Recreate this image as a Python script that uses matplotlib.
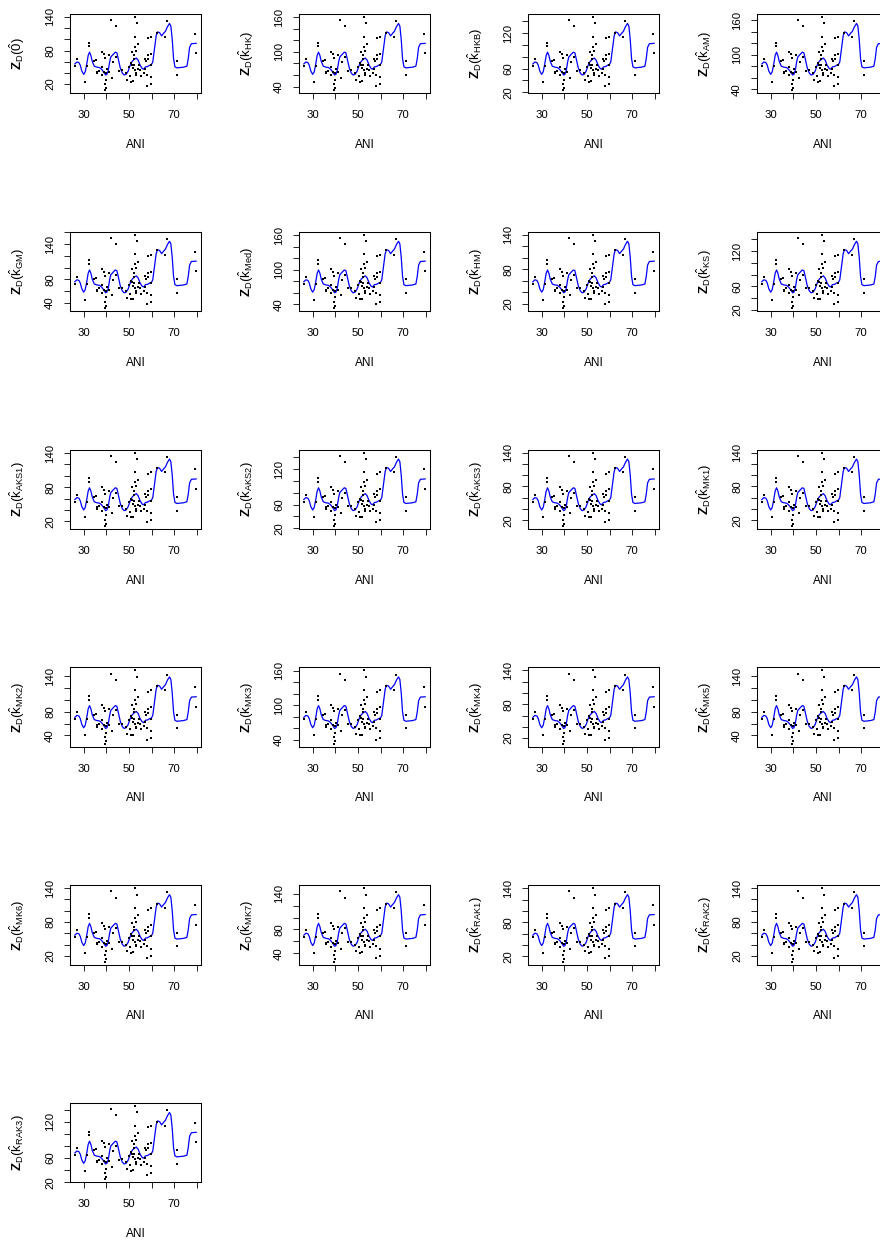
import numpy as np
import matplotlib
matplotlib.use("Agg")
import matplotlib.pyplot as plt

plt.rcParams['font.family'] = ['Liberation Sans', 'DejaVu Sans']
plt.rcParams['mathtext.fontset'] = 'custom'
plt.rcParams['mathtext.rm'] = 'Liberation Sans'
plt.rcParams['mathtext.it'] = 'Liberation Sans:italic'
plt.rcParams['mathtext.bf'] = 'Liberation Sans:bold'

# observed points for the unscaled statistic Z_D(0^)
ani = [26.0, 26.9, 30.4, 31.3, 32.2, 32.2, 34.3, 35.3, 35.8, 36.0,
       38.0, 37.8, 38.1, 38.7, 39.1, 39.3, 39.6, 39.6, 39.3, 40.2,
       39.9, 41.1, 41.2, 41.9, 42.4, 42.7, 44.0, 44.2, 46.8, 48.7,
       49.3, 50.1, 50.2, 50.8, 50.8, 51.1, 51.2, 51.7, 51.8, 52.0,
       52.3, 52.3, 52.6, 52.6, 52.6, 52.9, 52.7, 52.9, 53.2, 53.7,
       53.9, 54.0, 54.5, 54.9, 55.4, 57.1, 57.6, 58.2, 58.2, 57.9,
       57.9, 58.3, 59.5, 59.6, 59.6, 59.6, 59.8, 62.3, 66.1, 67.0,
       71.2, 71.2, 79.4, 79.7, 36.8, 39.4, 56.8, 57.0, 45.5]
zd0 = [52.5, 64.8, 24.0, 52.5, 94.0, 87.5, 60.7, 62.4, 42.0, 39.4,
       78.2, 50.8, 35.6, 42.0, 73.0, 66.5, 28.0, 13.0, 8.8, 46.1,
       40.3, 71.2, 42.0, 134.2, 31.5, 59.5, 123.1, 68.3, 44.4, 39.1,
       27.0, 50.8, 34.5, 57.8, 24.5, 78.2, 54.9, 25.1, 47.9, 53.7,
       64.8, 71.2, 140.0, 105.0, 87.0, 80.0, 44.4, 36.2, 39.1, 128.3,
       46.7, 91.6, 53.7, 45.0, 35.0, 65.4, 60.7, 101.5, 64.2, 36.2,
       15.8, 71.2, 74.1, 19.3, 104.4, 53.7, 32.1, 112.0, 104.4, 132.4,
       60.7, 36.2, 109.7, 74.7, 44.0, 20.0, 40.0, 47.0, 44.0]

# fitted curve for Z_D(0^)
fit_ani = [26.0, 26.9, 27.8, 28.4, 29.1, 29.9, 30.6, 31.3, 31.9, 32.5,
           33.1, 33.7, 34.6, 35.8, 36.9, 37.8, 38.7, 39.6, 40.2, 40.8,
           41.4, 41.9, 42.8, 43.9, 44.6, 45.2, 46.1, 47.0, 47.8, 48.7,
           49.6, 50.5, 51.4, 52.3, 53.2, 54.0, 54.9, 55.8, 56.4, 57.3,
           58.2, 59.1, 59.9, 60.5, 61.4, 62.0, 62.6, 63.5, 64.4, 65.3,
           66.1, 67.0, 67.9, 68.5, 69.1, 69.7, 70.3, 71.2, 72.6, 74.1,
           75.6, 76.2, 76.8, 77.6, 79.7]
fit_zd0 = [56.0, 59.5, 58.4, 53.7, 43.2, 37.4, 42.0, 56.6, 71.2, 77.0,
           71.2, 60.7, 52.0, 50.2, 49.6, 46.7, 42.0, 36.2, 37.4, 44.4,
           59.5, 68.3, 72.4, 77.0, 75.9, 65.4, 49.0, 39.7, 36.2, 37.4,
           43.2, 53.7, 60.7, 64.2, 66.5, 63.0, 53.7, 47.9, 46.7, 50.8,
           51.4, 53.7, 54.9, 59.5, 87.5, 106.2, 113.2, 112.0, 106.2, 110.8,
           114.3, 122.5, 128.3, 123.7, 100.3, 65.4, 50.8, 49.0, 49.6, 50.2,
           52.0, 65.4, 85.8, 92.2, 92.8]

# one panel per estimator: subscript, data range, y tick labels shown
estimators = ['0', 'HK', 'HKB', 'AM', 'GM', 'Med', 'HM', 'KS',
              'AKS1', 'AKS2', 'AKS3', 'MK1', 'MK2', 'MK3', 'MK4', 'MK5',
              'MK6', 'MK7', 'RAK1', 'RAK2', 'RAK3']
zd_low = [8.8, 33.5, 23.0, 38.0, 31.0, 33.5, 12.0, 23.0,
          12.0, 24.0, 10.0, 10.0, 26.0, 33.5, 10.0, 26.0,
          10.0, 26.0, 10.7, 10.0, 24.8]
zd_high = [140.0, 160.5, 147.5, 166.0, 156.0, 160.5, 140.0, 147.5,
           141.0, 148.0, 140.0, 140.0, 149.5, 160.5, 140.0, 149.5,
           140.0, 149.5, 140.6, 140.0, 146.0]
ytick_shown = [(20, 80, 140), (40, 100, 160), (20, 60, 120), (40, 100, 160),
               (40, 80, 140), (40, 100, 160), (20, 80, 140), (20, 60, 120),
               (20, 80, 140), (20, 60, 120), (20, 80, 140), (20, 80, 140),
               (40, 80, 140), (40, 100, 160), (20, 80, 140), (40, 80, 140),
               (20, 80, 140), (40, 80, 140), (20, 80, 140), (20, 80, 140),
               (20, 60, 120)]
xticks = [30, 40, 50, 60, 70, 80]
xtick_shown = [30, 50, 70]

ani = np.array(ani)
zd0 = np.array(zd0)
fit_ani = np.array(fit_ani)
fit_zd0 = np.array(fit_zd0)
base_lo, base_hi = zd0.min(), zd0.max()

W, H = 880, 1243
fig = plt.figure(figsize=(W / 100, H / 100), dpi=100)

FS = 8.2
for i, key in enumerate(estimators):
    r, c = divmod(i, 4)
    left = 70 + 229 * c
    top = 14 + 217.8 * r
    ax = fig.add_axes([left / W, 1 - (top + 79.3) / H, 131 / W, 79.3 / H])

    # rescale the Z_D(0^) values onto this estimator's range
    k = (zd_high[i] - zd_low[i]) / (base_hi - base_lo)
    y = zd_low[i] + (zd0 - base_lo) * k
    fy = zd_low[i] + (fit_zd0 - base_lo) * k

    ax.scatter(ani, y, s=3.2, marker='s', color='black', linewidths=0, zorder=3)
    ax.plot(fit_ani, fy, color='#0000ff', lw=0.9, zorder=2)

    xr = ani.max() - ani.min()
    ax.set_xlim(ani.min() - 0.04 * xr, ani.max() + 0.04 * xr)
    yr = y.max() - y.min()
    y0, y1 = y.min() - 0.04 * yr, y.max() + 0.04 * yr
    ax.set_ylim(y0, y1)

    ax.set_xticks(xticks)
    ax.set_xticklabels([str(t) if t in xtick_shown else '' for t in xticks])
    yt = [t for t in range(0, 200, 20) if y0 <= t <= y1]
    ax.set_yticks(yt)
    ax.set_yticklabels([str(t) if t in ytick_shown[i] else '' for t in yt],
                       rotation=90, va='center')

    ax.tick_params(direction='out', length=4.3, width=0.6, labelsize=FS,
                   colors='black')
    ax.tick_params(axis='x', pad=8.0)
    ax.tick_params(axis='y', pad=6.5)
    for sp in ax.spines.values():
        sp.set_linewidth(0.75)

    ax.text(0.5, -0.652, 'ANI', transform=ax.transAxes, ha='center',
            va='center', fontsize=FS + 0.3)
    if key == '0':
        lab = r'$\mathbf{Z}_{\mathrm{D}}(\hat{\mathrm{0}})$'
    else:
        lab = r'$\mathbf{Z}_{\mathrm{D}}(\hat{\mathrm{k}}_{\mathrm{%s}})$' % key
    ax.text(-0.40, 0.5, lab, transform=ax.transAxes, rotation=90,
            ha='center', va='center', fontsize=FS + 1.3)

fig.savefig('out.png', dpi=100)
